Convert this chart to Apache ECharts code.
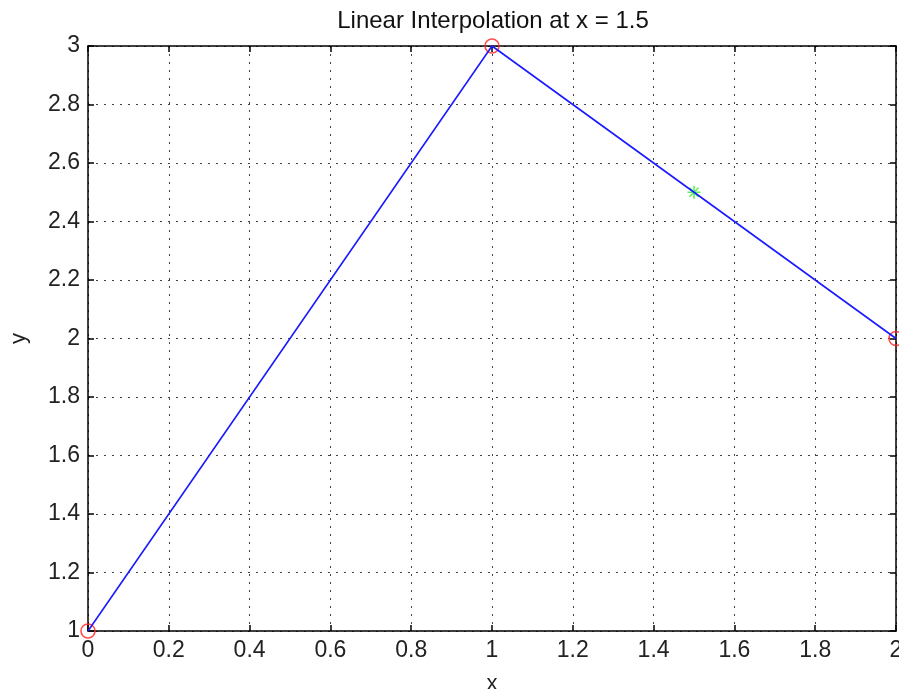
<!DOCTYPE html>
<html><head><meta charset="utf-8">
<script src="https://cdn.jsdelivr.net/npm/echarts@6/dist/echarts.min.js"></script>
<style>html,body{margin:0;padding:0;background:#fff}#c{width:899px;height:689px}</style>
</head><body><div id="c"></div>
<script>
var xData = [0, 1, 2];
var yData = [1, 3, 2];
var xInterp = [1.5];
var yInterp = [2.5];
var titleText = 'Linear Interpolation at x = 1.5';
var xName = 'x', yName = 'y';

var font = 'Liberation Sans, Arial, sans-serif';
var chart = echarts.init(document.getElementById('c'));
var gridLine = {show: true, lineStyle: {color: '#444', width: 1, type: [2, 6]}};
function baseAxis(extra) {
  return Object.assign({
    type: 'value',
    axisLine: {show: true, onZero: false, lineStyle: {color: '#000', width: 1.5}},
    axisTick: {show: true, inside: true, length: 6, lineStyle: {color: '#000', width: 1.5}},
    splitLine: {show: false}
  }, extra);
}
var lineData = xData.map(function (x, i) { return [x, yData[i]]; });
var interpData = xInterp.map(function (x, i) { return [x, yInterp[i]]; });
chart.setOption({
  animation: false,
  backgroundColor: '#fff',
  title: {text: titleText, left: 488, top: 4, textAlign: 'center',
    textStyle: {fontFamily: font, fontSize: 24, fontWeight: 'normal', color: '#111'}},
  grid: {left: 88, top: 46, right: 3, bottom: 58, containLabel: false, outerBoundsMode: 'none'},
  xAxis: [
    baseAxis({min: 0, max: 2, interval: 0.2, position: 'bottom',
      name: xName, nameLocation: 'middle', nameGap: 42,
      nameTextStyle: {fontFamily: font, fontSize: 22, color: '#222'},
      axisLabel: {fontFamily: font, fontSize: 23, color: '#222', margin: 8,
        formatter: function (v) { return +v.toFixed(1) + ''; }},
      splitLine: gridLine}),
    baseAxis({min: 0, max: 2, interval: 0.2, position: 'top', axisLabel: {show: false}})
  ],
  yAxis: [
    baseAxis({min: 1, max: 3, interval: 0.2, position: 'left',
      name: yName, nameLocation: 'middle', nameGap: 58, nameRotate: 90,
      nameTextStyle: {fontFamily: font, fontSize: 22, color: '#222'},
      axisLabel: {fontFamily: font, fontSize: 23, color: '#222', margin: 8,
        formatter: function (v) { return +v.toFixed(1) + ''; }},
      splitLine: gridLine}),
    baseAxis({min: 1, max: 3, interval: 0.2, position: 'right', axisLabel: {show: false}})
  ],
  series: [
    {type: 'line', data: lineData, symbol: 'none', clip: false,
      lineStyle: {color: '#1a1aff', width: 1.6}},
    {type: 'scatter', data: lineData, symbol: 'circle', symbolSize: 14, clip: false,
      itemStyle: {color: 'rgba(0,0,0,0)', borderColor: '#ff2020', borderWidth: 1.6}},
    {type: 'scatter', data: interpData, clip: false,
      symbol: 'path://M0,-1L0,1M-1,0L1,0M-0.7,-0.7L0.7,0.7M-0.7,0.7L0.7,-0.7',
      symbolSize: 13,
      itemStyle: {color: 'rgba(0,0,0,0)', borderColor: '#33ee33', borderWidth: 1.6}}
  ]
});
</script></body></html>
